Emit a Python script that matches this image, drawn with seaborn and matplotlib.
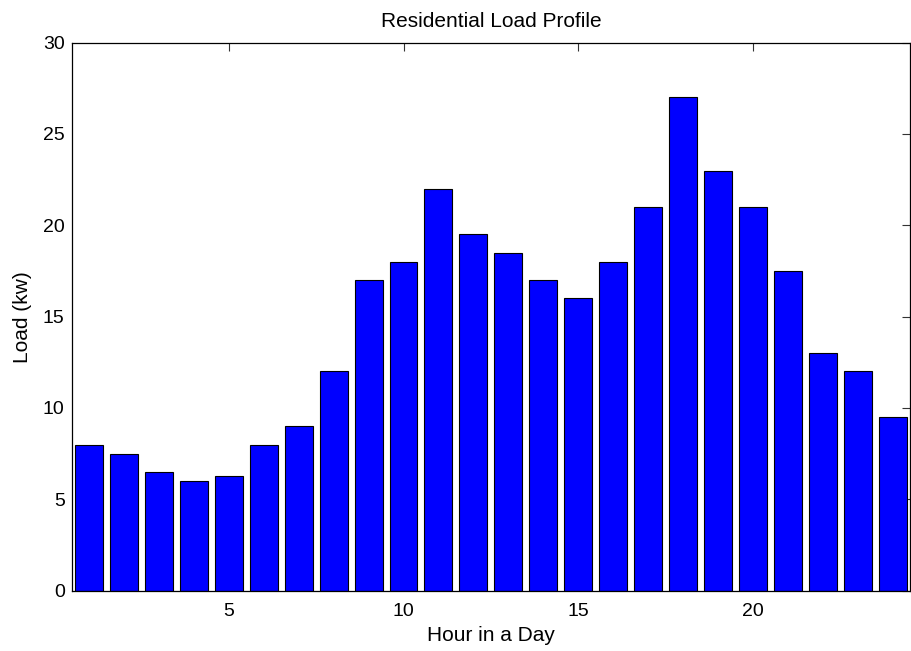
import pandas as pd
import matplotlib.pyplot as plt
import seaborn as sns

hours = list(range(1, 25))
load_kw = [8, 7.5, 6.5, 6, 6.3, 8, 9, 12, 17, 18, 22, 19.5,
           18.5, 17, 16, 18, 21, 27, 23, 21, 17.5, 13, 12, 9.5]
x_ticks = [5, 10, 15, 20]
y_ticks = [0, 5, 10, 15, 20, 25, 30]

sns.set_style('white')
plt.rcParams['font.family'] = ['Liberation Sans', 'DejaVu Sans']
plt.rcParams['text.color'] = 'black'
plt.rcParams['axes.labelcolor'] = 'black'
plt.rcParams['xtick.color'] = 'black'
plt.rcParams['ytick.color'] = 'black'

df = pd.DataFrame({'hour': hours, 'load': load_kw})

fig = plt.figure(figsize=(9.12, 6.51), dpi=100)
ax = fig.add_axes([0.0786, 0.0927, 0.9192, 0.8418])

sns.barplot(data=df, x='hour', y='load', native_scale=True, width=0.8,
            color='#0000ff', saturation=1, edgecolor='black', linewidth=0.8, ax=ax)

ax.set_xlim(0.5, 24.5)
ax.set_ylim(0, 30)
ax.set_xticks(x_ticks)
ax.set_yticks(y_ticks)
ax.tick_params(direction='in', top=True, right=True, length=6, width=0.8,
               color='#333333', labelcolor='black', labelsize=14)
ax.tick_params(axis='x', pad=9)
ax.tick_params(axis='y', pad=5)
for s in ax.spines.values():
    s.set_visible(True)
    s.set_color('black')
    s.set_linewidth(0.9)

ax.set_title('Residential Load Profile', fontsize=15, pad=11.5)
ax.set_xlabel('Hour in a Day', fontsize=15, labelpad=4.5)
ax.set_ylabel('Load (kw)', fontsize=15, labelpad=8)

plt.savefig('out.png', dpi=100)
